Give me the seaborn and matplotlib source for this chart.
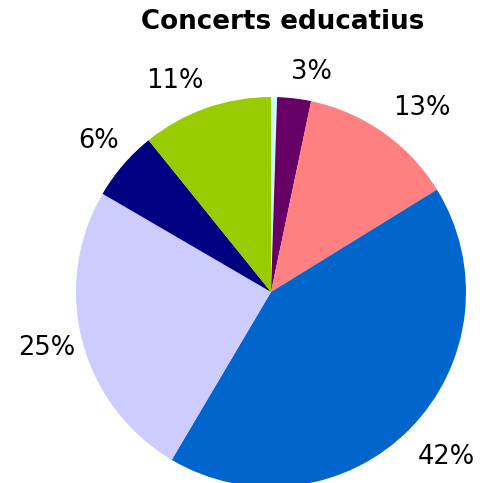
import matplotlib
matplotlib.use("Agg")
import numpy as np
import matplotlib.pyplot as plt
import seaborn as sns

# Datos del gráfico (sentido horario desde las 12)
categorias = ['Altres', 'A', 'B', 'C', 'D', 'E', 'F']
valores = [0.5, 2.8, 12.9, 42.3, 24.9, 5.8, 10.8]
etiquetas = ['', '3%', '13%', '42%', '25%', '6%', '11%']
colores = ['#CCFFFF', '#660066', '#FF8080', '#0066CC', '#CCCCFF', '#000080', '#99CC00']

# Ajustes de posición de las etiquetas (distancia radial y giro en grados)
distancias = [1.15, 1.145, 1.22, 1.235, 1.185, 1.175, 1.19]
giros = [0, -3.5, -4.2, 1.3, -0.6, -0.6, 5.0]

sns.set_theme(style='white')
plt.rcParams['font.family'] = ['DejaVu Sans']
plt.rcParams['text.color'] = 'black'

fig = plt.figure(figsize=(4.81, 4.83), dpi=100)
ax = fig.add_axes([(271 - 195) / 481, (483 - 292 - 195) / 483, 390 / 481, 390 / 483])

wedges, textos = ax.pie(
    valores,
    colors=sns.color_palette(colores),
    startangle=90,
    counterclock=False,
    wedgeprops={'linewidth': 0},
)

# Etiquetas de porcentaje fuera del pastel
for w, txt, d, g in zip(wedges, etiquetas, distancias, giros):
    if not txt:
        continue
    ang = np.deg2rad((w.theta1 + w.theta2) / 2 + g)
    ax.text(d * np.cos(ang), d * np.sin(ang), txt, ha='center', va='center',
            fontsize=18.5, color='black')

ax.set_xlim(-1, 1)
ax.set_ylim(-1, 1)
ax.set_aspect('equal')
ax.axis('off')

fig.text(283 / 481, 1 - 22 / 483, 'Concerts educatius', ha='center', va='center',
         fontsize=18.8, fontweight='bold', color='black')

fig.savefig('out.png', dpi=100)
